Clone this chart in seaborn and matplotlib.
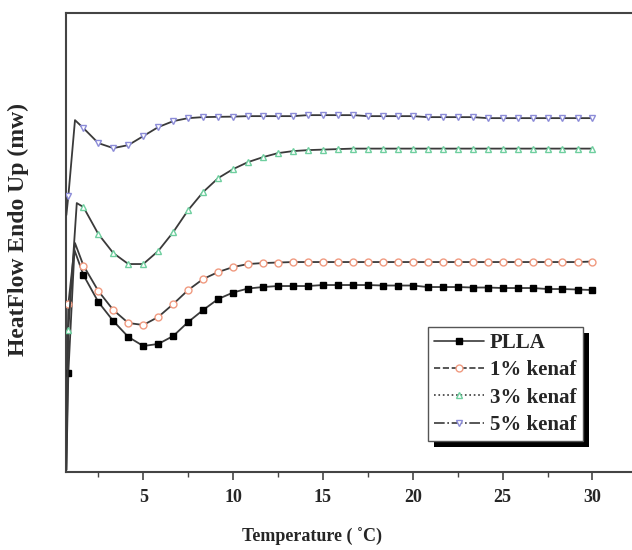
import matplotlib
matplotlib.use("Agg")
import matplotlib.pyplot as plt
from matplotlib.lines import Line2D
from matplotlib.patches import Rectangle
import pandas as pd
import seaborn as sns

# temperatures of the plotted markers (deg C)
temps = [0.83, 1.67, 2.5, 3.33, 4.17, 5.0, 5.83, 6.67, 7.5, 8.33, 9.17, 10.0,
         10.83, 11.67, 12.5, 13.33, 14.17, 15.0, 15.83, 16.67, 17.5, 18.33,
         19.17, 20.0, 20.83, 21.67, 22.5, 23.33, 24.17, 25.0, 25.83, 26.67,
         27.5, 28.33, 29.17, 30.0]

# heat flow (arbitrary mW offset scale) at each marker temperature
pla = [9.9, 19.7, 17.0, 15.1, 13.5, 12.6, 12.8, 13.6, 15.0, 16.2, 17.3, 17.95,
       18.35, 18.5, 18.6, 18.6, 18.6, 18.7, 18.7, 18.7, 18.7, 18.65, 18.65,
       18.65, 18.5, 18.5, 18.5, 18.45, 18.45, 18.4, 18.4, 18.4, 18.3, 18.3,
       18.25, 18.2]
kenaf1 = [16.8, 20.65, 18.1, 16.2, 14.9, 14.7, 15.5, 16.8, 18.2, 19.3, 20.0,
          20.5, 20.8, 20.9, 20.95, 21.0, 21.0, 21.0, 21.0, 21.0, 21.0, 21.0,
          21.0, 21.0, 21.0, 21.0, 21.0, 21.0, 21.0, 21.0, 21.0, 21.0, 21.0,
          21.0, 21.0, 21.05]
kenaf3 = [14.2, 26.5, 23.8, 21.9, 20.8, 20.8, 22.1, 24.0, 26.2, 28.0, 29.4,
          30.3, 31.0, 31.5, 31.9, 32.1, 32.2, 32.25, 32.3, 32.35, 32.35, 32.35,
          32.35, 32.35, 32.35, 32.35, 32.35, 32.35, 32.35, 32.35, 32.35, 32.35,
          32.35, 32.35, 32.35, 32.35]
kenaf5 = [27.6, 34.4, 32.9, 32.4, 32.7, 33.6, 34.5, 35.1, 35.4, 35.5, 35.53,
          35.55, 35.6, 35.6, 35.6, 35.6, 35.7, 35.7, 35.7, 35.7, 35.6, 35.6,
          35.6, 35.6, 35.5, 35.5, 35.5, 35.5, 35.4, 35.4, 35.4, 35.4, 35.4,
          35.4, 35.4, 35.4]

# onset of each trace: (start temp, start value, peak temp, peak value)
onset_pla = [0.72, 0.2, 1.17, 22.2]
onset_k1 = [0.72, 5.2, 1.2, 22.9]
onset_k3 = [0.72, 0.2, 1.3, 26.9]
onset_k5 = [0.72, 25.7, 1.2, 35.2]

labels = ["PLLA", "1% kenaf", "3% kenaf", "5% kenaf"]
markers = ["s", "o", "^", "v"]
face_colors = ["black", "white", "white", "white"]
edge_colors = ["black", "#f09a80", "#6fcf9f", "#8c8cd8"]
styles = ["-", "--", ":", "-."]

sns.set_style("ticks")
plt.rcParams["font.family"] = ["Liberation Serif", "DejaVu Serif"]
plt.rcParams["font.weight"] = "bold"

fig = plt.figure(figsize=(6.32, 5.5), dpi=100)
ax = fig.add_axes([0.105, 0.142, 0.895, 0.834])

series = [(pla, onset_pla), (kenaf1, onset_k1), (kenaf3, onset_k3), (kenaf5, onset_k5)]
for i, (vals, on) in enumerate(series):
    df = pd.DataFrame({
        "T": [on[0], temps[0], on[2]] + temps[1:],
        "H": [on[1], vals[0], on[3]] + vals[1:],
    })
    marks = [1] + list(range(3, len(df)))
    sns.lineplot(data=df, x="T", y="H", ax=ax, sort=False, color="#3a3a3a",
                 linewidth=1.3, marker=markers[i], markersize=5,
                 markerfacecolor=face_colors[i], markeredgecolor=edge_colors[i],
                 markeredgewidth=1.0, markevery=marks, zorder=3 + i)

ax.set_xlim(0.72, 32.2)
ax.set_ylim(0, 45.9)
ax.set_xticks([5, 10, 15, 20, 25, 30])
ax.set_xticks([2.5, 7.5, 12.5, 17.5, 22.5, 27.5], minor=True)
ax.set_yticks([])
ax.tick_params(axis="x", which="major", direction="out", length=6, width=1.2,
               labelsize=13, pad=6, color="#444444")
ax.tick_params(axis="x", which="minor", direction="out", length=3.5, width=1.0,
               color="#444444")
for lab in ax.get_xticklabels():
    lab.set_fontweight("bold")
for side in ["left", "top", "bottom"]:
    ax.spines[side].set_linewidth(1.5)
    ax.spines[side].set_color("#444444")
ax.spines["right"].set_visible(False)

ax.set_xlabel("Temperature ( \u02daC)", fontsize=13, fontweight="bold")
ax.set_ylabel("HeatFlow Endo Up (mw)", fontsize=17, fontweight="bold")
ax.xaxis.set_label_coords(0.434, -0.122)
ax.yaxis.set_label_coords(-0.066, 0.529)

handles = [Line2D([], [], color="#3a3a3a", linestyle=styles[i], linewidth=1.2,
                  marker=markers[i], markersize=5, markerfacecolor=face_colors[i],
                  markeredgecolor=edge_colors[i]) for i in range(4)]
leg = ax.legend(handles, labels, loc="upper right", bbox_to_anchor=(0.913, 0.316),
                borderaxespad=0, fancybox=False, framealpha=1, edgecolor="#555555",
                prop={"size": 15, "weight": "bold"}, handlelength=2.4,
                labelspacing=0.35, handletextpad=0.3, borderpad=0.3)
leg.get_frame().set_linewidth(1.0)

# hard black drop shadow behind the legend box
fig.canvas.draw()
bb = leg.get_window_extent().transformed(ax.transAxes.inverted())
dx = 6 / (ax.bbox.width)
dy = 6 / (ax.bbox.height)
ax.add_patch(Rectangle((bb.x0 + dx, bb.y0 - dy), bb.width, bb.height,
                       transform=ax.transAxes, facecolor="black", edgecolor="none",
                       clip_on=False, zorder=4.5))
leg.set_zorder(6)

fig.savefig("out.png", dpi=100)
